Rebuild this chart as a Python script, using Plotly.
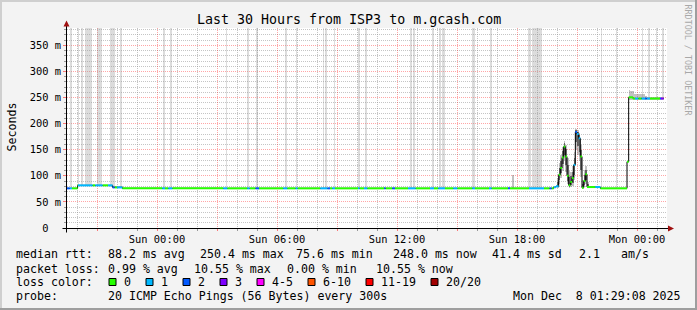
import bisect
import plotly.graph_objects as go

# ---------------- data (time = hours relative to Sun 00:00, values = ms) ----------------
X_START, X_END = -4.5, 25.5
Y_TOP = 383.4

# median rtt as a step function: change times and values
med_h = [-4.5, -3.97, -2.22, -1.735, 19.83, 19.95,
         20.0, 20.083, 20.167, 20.25, 20.333, 20.417, 20.5, 20.583, 20.667, 20.75,
         20.833, 20.917, 21.0, 21.083, 21.167, 21.25, 21.333, 21.417, 21.5,
         22.17, 23.5, 23.583, 23.8]
med_v = [76, 81.7, 77.8, 76, 78, 80,
         80, 102, 115, 135, 156, 137, 100, 82, 88, 96,
         121, 184, 180, 172, 137, 77, 90, 103, 78.5,
         76, 127, 250.4, 248.2]
MED_END = 25.33

# packet-loss colour runs (anything not listed is loss level 0)
loss_h0 = [-4.5, -4.37, -3.95, -3.085, -2.45, -2.22, -2.0, 0.265, 0.565, 3.315, 4.515, 4.93,
           6.315, 6.93, 8.165, 8.53, 8.765, 10.05, 10.35, 11.35, 11.765, 12.55, 13.65, 14.065,
           14.815, 15.765, 16.6, 17.55, 18.6, 19.63, 19.85, 20.833, 20.917, 21.0, 21.915,
           23.9, 24.23, 24.4, 24.48, 25.15, 25.2]
loss_h1 = [-4.37, -4.25, -3.22, -2.72, -2.22, -2.12, -1.735, 0.4, 0.765, 3.515, 4.63, 5.1,
           6.515, 7.03, 8.53, 8.65, 8.9, 10.13, 10.515, 11.43, 11.9, 12.93, 13.85, 14.4,
           15.015, 15.9, 16.73, 17.65, 19.35, 19.73, 20.083, 20.917, 21.0, 21.167, 22.17,
           24.065, 24.4, 24.48, 24.65, 25.2, 25.33]
loss_lvl = [2, 1, 1, 1, 1, 2, 1, 1, 1, 1, 1, 2,
            1, 1, 1, 2, 1, 1, 1, 2, 2, 1, 1, 1,
            1, 1, 1, 2, 1, 2, 1, 1, 2, 1, 1,
            1, 1, 2, 1, 2, 3]

# intervals where lost pings push the smoke to the top of the graph
lossbar_h0 = [-4.335, -3.95, -3.80, -3.61, -3.0, -2.335, -1.835, 0.315, 0.665, 3.43, 4.515, 4.95,
              6.415, 6.93, 8.28, 8.415, 8.83, 10.05, 10.4, 12.65, 12.8, 13.765, 14.1, 14.265,
              15.765, 16.65, 18.565, 18.765, 22.18, 22.95, 24.23, 24.565, 24.93, 25.265]
lossbar_h1 = [-4.25, -3.885, -3.70, -3.25, -2.75, -2.085, -1.735, 0.415, 0.75, 3.515, 4.6, 5.03,
              6.5, 7.015, 8.365, 8.5, 8.915, 10.13, 10.515, 12.765, 12.9, 13.865, 14.215, 14.4,
              15.9, 16.73, 18.68, 19.265, 22.265, 23.015, 24.315, 24.665, 25.015, 25.33]

# smoke (spread of the 20 pings), one 5-minute step each
smoke_h = [-2.22, -2.137, -2.053, -1.97, -1.887, -1.803, 17.77,
           20.0, 20.083, 20.167, 20.25, 20.333, 20.417, 20.5, 20.583, 20.667, 20.75,
           20.833, 20.917, 21.0, 21.083, 21.167, 21.25, 21.333, 21.417, 21.5,
           23.583, 23.667, 23.75, 23.833, 23.917, 24.0, 24.083, 24.167, 24.25, 24.333,
           24.417, 24.5, 24.583, 24.667, 24.75, 24.833, 24.917, 25.0, 25.083, 25.167, 25.25]
smoke_lo = [77, 77, 77, 76, 76, 76, 76,
            77, 85, 95, 110, 128, 108, 84, 77, 78, 80,
            92, 150, 140, 128, 98, 76, 78, 84, 77,
            246, 246, 246, 246, 246, 246, 246, 246, 246, 246,
            246, 246, 246, 246, 246, 246, 246, 246, 246, 246, 246]
smoke_hi = [81, 81, 81, 80, 80, 80, 101,
            96, 125, 140, 155, 166, 160, 135, 110, 108, 118,
            145, 190, 187, 182, 160, 92, 112, 118, 88,
            265, 263, 262, 256, 257, 257, 257, 256, 257, 257,
            254, 252, 252, 252, 252, 252, 252, 252, 252, 252, 252]
# darker core of the smoke in the unstable period
core_h = [20.0, 20.083, 20.167, 20.25, 20.333, 20.417, 20.5, 20.583, 20.667, 20.75,
          20.833, 20.917, 21.0, 21.083, 21.167, 21.25, 21.333, 21.417, 21.5]
core_lo = [78, 92, 105, 122, 140, 120, 90, 79, 82, 86,
           102, 165, 158, 145, 112, 76, 82, 92, 77]
core_hi = [88, 115, 128, 148, 162, 152, 120, 98, 100, 108,
           135, 188, 184, 178, 150, 84, 102, 112, 84]

# axis labels
x_ticks = [-3, 0, 3, 6, 9, 12, 15, 18, 21, 24]
x_ticktext = ["", "Sun 00:00", "", "Sun 06:00", "", "Sun 12:00", "", "Sun 18:00", "", "Mon 00:00"]
x_minor = [-4, -2, -1, 1, 2, 4, 5, 7, 8, 10, 11, 13, 14, 16, 17, 19, 20, 22, 23, 25]
y_ticks = [0, 50, 100, 150, 200, 250, 300, 350]
y_ticktext = ["0\u00a0\u00a0", "50 m", "100 m", "150 m", "200 m", "250 m", "300 m", "350 m"]
y_minor = [v for v in range(10, 390, 10) if v % 50 != 0]

loss_labels = ["0", "1", "2", "3", "4-5", "6-10", "11-19", "20/20"]
loss_colors = ["#26ff00", "#00b8ff", "#0059ff", "#7e00ff", "#ff00ff", "#ff5500", "#ff0000", "#a10000"]

title = "Last 30 Hours from ISP3 to m.gcash.com"
row_rtt = ["median rtt:", "88.2 ms avg", "250.4 ms max", "75.6 ms min", "248.0 ms now",
           "41.4 ms sd", "2.1", "am/s"]
row_loss = ["packet loss:", "0.99 % avg", "10.55 % max", "0.00 % min", "10.55 % now"]
probe_text = "20 ICMP Echo Pings (56 Bytes) every 300s"
stamp = "Mon Dec  8 01:29:08 2025"

# ---------------- layout geometry (pixels) ----------------
FW, FH = 697, 310
L, T, W, H = 67, 28, 600, 200
MONO = "DejaVu Sans Mono"


def px(x):
    return (x - L) / W


def py(y):
    return (T + H - y) / H


def nb(s):
    return s.replace(" ", "\u00a0")


def med_at(h):
    i = bisect.bisect_right(med_h, h) - 1
    return med_v[max(i, 0)]


def lvl_at(h):
    for a, b, l in zip(loss_h0, loss_h1, loss_lvl):
        if a <= h < b:
            return l
    return 0


fig = go.Figure()

# loss bars (from median to top)
lb_x = [(a + b) / 2 for a, b in zip(lossbar_h0, lossbar_h1)]
lb_w = [b - a for a, b in zip(lossbar_h0, lossbar_h1)]
lb_base = [med_at(x) + 1.5 for x in lb_x]
fig.add_trace(go.Bar(x=lb_x, width=lb_w, base=lb_base, y=[Y_TOP - b for b in lb_base],
                     marker=dict(color="rgba(150,150,150,0.33)", line=dict(width=0)),
                     hoverinfo="skip", showlegend=False))

# smoke
fig.add_trace(go.Bar(x=[h + 1 / 24 for h in smoke_h], width=[1 / 12] * len(smoke_h),
                     base=smoke_lo, y=[b - a for a, b in zip(smoke_lo, smoke_hi)],
                     marker=dict(color="rgba(120,120,120,0.45)", line=dict(width=0)),
                     hoverinfo="skip", showlegend=False))
fig.add_trace(go.Bar(x=[h + 1 / 24 for h in core_h], width=[1 / 12] * len(core_h),
                     base=core_lo, y=[b - a for a, b in zip(core_lo, core_hi)],
                     marker=dict(color="rgba(60,60,60,0.7)", line=dict(width=0)),
                     hoverinfo="skip", showlegend=False))

# black median step line
fig.add_trace(go.Scatter(x=med_h + [MED_END], y=med_v + [med_v[-1]], mode="lines",
                         line=dict(color="#000000", width=1, shape="hv"),
                         hoverinfo="skip", showlegend=False))

# coloured median segments by loss level
bps = sorted(set([h for h in med_h + loss_h0 + loss_h1 + [MED_END] if med_h[0] <= h <= MED_END]))
segs = []
for a, b in zip(bps[:-1], bps[1:]):
    m = (a + b) / 2
    v, l = med_at(m), lvl_at(m)
    if segs and segs[-1][2] == v and segs[-1][3] == l and abs(segs[-1][1] - a) < 1e-9:
        segs[-1][1] = b
    else:
        segs.append([a, b, v, l])
for lvl, col in enumerate(loss_colors):
    xs, ys = [], []
    for a, b, v, l in segs:
        if l == lvl:
            xs += [a, b, None]
            ys += [v, v, None]
    if xs:
        fig.add_trace(go.Scatter(x=xs, y=ys, mode="lines", line=dict(color=col, width=2),
                                 hoverinfo="skip", showlegend=False))

shapes = []
ann = []

# frame
shapes += [
    dict(type="line", xref="paper", yref="paper", x0=px(0), x1=px(FW), y0=py(1), y1=py(1),
         line=dict(color="#cfcfcf", width=2)),
    dict(type="line", xref="paper", yref="paper", x0=px(1), x1=px(1), y0=py(0), y1=py(FH),
         line=dict(color="#cfcfcf", width=2)),
    dict(type="line", xref="paper", yref="paper", x0=px(0), x1=px(FW), y0=py(FH - 1), y1=py(FH - 1),
         line=dict(color="#9e9e9e", width=2)),
    dict(type="line", xref="paper", yref="paper", x0=px(FW - 1), x1=px(FW - 1), y0=py(0), y1=py(FH),
         line=dict(color="#9e9e9e", width=2)),
]
# axes with arrows
shapes += [
    dict(type="line", xref="paper", yref="paper", x0=px(62.5), x1=px(669), y0=py(228.5), y1=py(228.5),
         line=dict(color="#000000", width=1)),
    dict(type="line", xref="paper", yref="paper", x0=px(66.5), x1=px(66.5), y0=py(232.5), y1=py(24),
         line=dict(color="#000000", width=1)),
    dict(type="path", xref="paper", yref="paper", line=dict(width=0), fillcolor="#a01010",
         path=f"M {px(63.5)},{py(26.5)} L {px(69.5)},{py(26.5)} L {px(66.5)},{py(20.5)} Z"),
    dict(type="path", xref="paper", yref="paper", line=dict(width=0), fillcolor="#a01010",
         path=f"M {px(668)},{py(225.5)} L {px(668)},{py(231.5)} L {px(674)},{py(228.5)} Z"),
]

# texts
ann.append(dict(text=nb(title), x=px(348.5), y=py(19), xanchor="center", yanchor="middle",
                font=dict(family=MONO, size=13.3, color="#000000")))
ann.append(dict(text="Seconds", x=px(11), y=py(127.5), xanchor="center", yanchor="middle",
                textangle=-90, font=dict(family=MONO, size=11.6, color="#000000")))
ann.append(dict(text=nb("RRDTOOL / TOBI OETIKER"), x=px(687.5), y=py(60), xanchor="center",
                yanchor="middle", textangle=90, font=dict(family=MONO, size=8.4, color="#a8a8a8")))

rtt_x = [16.4, 107.6, 200, 295.6, 392.9, 492.4, 579.1, 620.9]
for s, x in zip(row_rtt, rtt_x):
    ann.append(dict(text=nb(s), x=px(x - 1), y=py(254.3), xanchor="left", yanchor="middle",
                    font=dict(family=MONO, size=11.6, color="#000000")))
loss_x = [16.4, 107.6, 194.2, 286.7, 376]
for s, x in zip(row_loss, loss_x):
    ann.append(dict(text=nb(s), x=px(x - 1), y=py(268.5), xanchor="left", yanchor="middle",
                    font=dict(family=MONO, size=11.6, color="#000000")))
ann.append(dict(text=nb("loss color:"), x=px(15.4), y=py(282), xanchor="left", yanchor="middle",
                font=dict(family=MONO, size=11.6, color="#000000")))
box_x = [109, 146, 183, 220, 257, 308, 366, 431]
for lab, col, bx in zip(loss_labels, loss_colors, box_x):
    shapes.append(dict(type="rect", xref="paper", yref="paper", x0=px(bx), x1=px(bx + 7),
                       y0=py(285.5), y1=py(278.5), fillcolor=col, line=dict(color="#000000", width=1)))
    ann.append(dict(text=nb(lab), x=px(bx + 14), y=py(282), xanchor="left", yanchor="middle",
                    font=dict(family=MONO, size=11.6, color="#000000")))
ann.append(dict(text=nb("probe:"), x=px(15.4), y=py(296.3), xanchor="left", yanchor="middle",
                font=dict(family=MONO, size=11.6, color="#000000")))
ann.append(dict(text=nb(probe_text), x=px(106.6), y=py(296.3), xanchor="left", yanchor="middle",
                font=dict(family=MONO, size=11.6, color="#000000")))
ann.append(dict(text=nb(stamp), x=px(682), y=py(296.3), xanchor="right", yanchor="middle",
                font=dict(family=MONO, size=11.6, color="#000000")))
for a in ann:
    a.update(xref="paper", yref="paper", showarrow=False, borderpad=0)

fig.update_layout(
    width=FW, height=FH,
    margin=dict(l=L, r=FW - L - W, t=T, b=FH - T - H, pad=0),
    paper_bgcolor="#f3f3f3", plot_bgcolor="#ffffff",
    barmode="overlay", bargap=0,
    shapes=shapes, annotations=ann, showlegend=False,
    font=dict(family=MONO, size=10.4, color="#000000"),
)
fig.update_xaxes(
    range=[X_START, X_END], tickmode="array", tickvals=x_ticks, ticktext=x_ticktext,
    showgrid=True, gridcolor="rgba(255,0,0,0.35)", griddash="1px,1px", gridwidth=1,
    ticks="outside", ticklen=2, tickcolor="rgba(255,0,0,0.5)",
    minor=dict(tickvals=x_minor, showgrid=True, gridcolor="rgba(140,140,140,0.5)",
               griddash="1px,1px", ticks="outside", ticklen=2, tickcolor="#999999"),
    showline=False, zeroline=False, fixedrange=True,
    tickfont=dict(family=MONO, size=10.4, color="#000000"),
)
fig.update_yaxes(
    range=[0, Y_TOP], tickmode="array", tickvals=y_ticks, ticktext=y_ticktext,
    showgrid=True, gridcolor="rgba(255,0,0,0.35)", griddash="1px,1px", gridwidth=1,
    ticks="outside", ticklen=3, tickcolor="rgba(255,0,0,0.5)",
    minor=dict(tickvals=y_minor, showgrid=True, gridcolor="rgba(140,140,140,0.5)",
               griddash="1px,1px", ticks="outside", ticklen=2, tickcolor="#999999"),
    showline=False, zeroline=False, fixedrange=True,
    tickfont=dict(family=MONO, size=10.4, color="#000000"),
)

fig.write_html("out.html", config={"displayModeBar": False})
